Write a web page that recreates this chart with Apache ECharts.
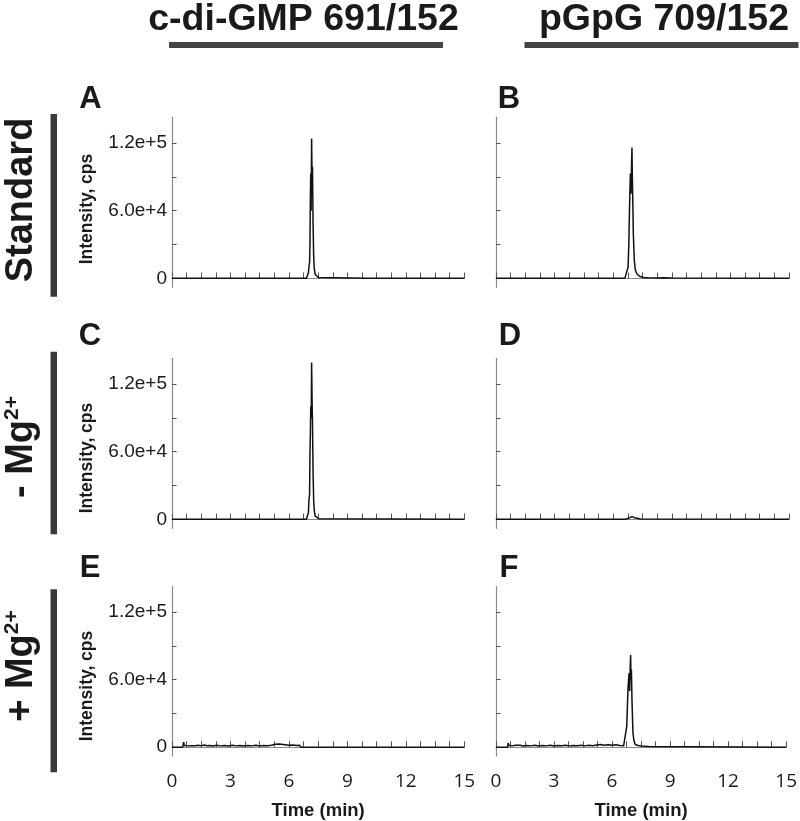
<!DOCTYPE html>
<html>
<head>
<meta charset="utf-8">
<script src="https://cdn.jsdelivr.net/npm/echarts@6/dist/echarts.min.js"></script>
<style>
html,body{margin:0;padding:0;background:#fff;}
#main{width:800px;height:821px;}
</style>
</head>
<body>
<div id="main"></div>
<script>
// ---------- data ----------
var colTitles = ['c-di-GMP 691/152', 'pGpG 709/152'];
var panelLetters = ['A', 'B', 'C', 'D', 'E', 'F'];
var xLabelValues = [0, 3, 6, 9, 12, 15];
var xTickValues = [0,0.75,1.5,2.25,3,3.75,4.5,5.25,6,6.75,7.5,8.25,9,9.75,10.5,11.25,12,12.75,13.5,14.25,15];
var yLabelValues = [0, 60000, 120000];
var yTickLabels = ['0', '6.0e+4', '1.2e+5'];
var yTickValues = [0, 30000, 60000, 90000, 120000];
var yAxisTitle = 'Intensity, cps';
var xAxisTitle = 'Time (min)';

// Panel A: c-di-GMP, standard
var seriesA = [[0,300],[3,300],[6.9,300],[6.96,800],[7.0,5000],[7.03,11000],[7.06,14000],[7.08,31000],[7.1,70000],[7.12,93000],[7.14,60000],[7.165,124000],[7.19,85000],[7.21,99000],[7.24,48000],[7.27,20000],[7.3,9000],[7.35,3500],[7.42,1800],[7.51,900],[7.6,400],[10,300],[15,300]];
// Panel B: pGpG, standard
var seriesB = [[0,300],[6.6,300],[6.7,1000],[6.76,10000],[6.8,30000],[6.83,57000],[6.86,80000],[6.88,93000],[6.91,75000],[6.94,100000],[6.96,116000],[6.98,90000],[7.0,72000],[7.03,40000],[7.08,16000],[7.13,8000],[7.2,4400],[7.35,2000],[7.54,900],[7.8,700],[8.2,500],[8.6,700],[9.0,400],[15,300]];
// Panel C: c-di-GMP, - Mg2+
var seriesC = [[0,300],[6.9,300],[6.96,1000],[7.0,6000],[7.03,18000],[7.06,22000],[7.08,58000],[7.1,75000],[7.12,100000],[7.145,90000],[7.165,139000],[7.19,103000],[7.21,85000],[7.24,41000],[7.27,17000],[7.3,8000],[7.35,3000],[7.45,1500],[7.55,600],[15,300]];
// Panel D: pGpG, - Mg2+
var seriesD = [[0,300],[6.6,300],[6.75,800],[6.85,1800],[6.95,2500],[7.0,2200],[7.1,1500],[7.2,700],[7.4,400],[15,300]];
// Panel E: c-di-GMP, + Mg2+
var seriesE = [[0,0],[0.55,0],[0.6,4500],[0.63,1500],[0.7,2200],[0.8,1200],[0.9,1800],[1.0,1400],[1.1,2000],[1.2,1300],[1.35,1700],[1.5,1200],[1.65,1900],[1.8,1300],[1.95,1600],[2.1,1100],[2.3,1800],[2.5,1200],[2.7,1600],[2.9,1100],[3.1,1700],[3.3,1200],[3.5,1500],[3.7,1100],[3.9,1600],[4.1,1200],[4.3,1700],[4.5,1100],[4.7,1500],[4.9,1300],[5.1,1800],[5.3,2600],[5.4,2200],[5.5,2800],[5.6,2000],[5.8,2300],[6.0,1700],[6.2,2000],[6.4,1500],[6.55,1800],[6.6,0],[15,0]];
// Panel F: pGpG, + Mg2+
var seriesF = [[0,0],[0.6,0],[0.63,3900],[0.67,1500],[0.75,2200],[0.85,1200],[1.0,1800],[1.1,1300],[1.25,1700],[1.4,1100],[1.6,1600],[1.8,1200],[2.0,1700],[2.2,1100],[2.4,1500],[2.6,1200],[2.8,1800],[3.0,1100],[3.2,1500],[3.4,1300],[3.6,1700],[3.8,1200],[4.0,1600],[4.2,1300],[4.4,1800],[4.6,1200],[4.8,1700],[5.0,1400],[5.2,2000],[5.4,2400],[5.6,1800],[5.8,2300],[6.0,1700],[6.2,2100],[6.4,1500],[6.6,1400],[6.7,3000],[6.76,18600],[6.8,40000],[6.83,54000],[6.88,66000],[6.91,50000],[6.94,72000],[6.96,82000],[6.98,60000],[7.0,69000],[7.03,42000],[7.08,12700],[7.13,6000],[7.2,2400],[7.35,1500],[7.5,1000],[7.7,800],[7.9,600],[8.0,0],[15,0]];

var allSeries = [seriesA, seriesB, seriesC, seriesD, seriesE, seriesF];

// ---------- layout ----------
var colLeft = [172, 496];
var colWidth = [292.3, 293];
var rowTop = [117.3, 358.3, 586.7];
var rowHeight = 170;
var yMin = -7800, yMax = 142700;

var FONT = '"Liberation Sans", Arial, Helvetica, sans-serif';
var TXT = '#1a1a1a';

var grids = [], xAxes = [], yAxes = [], series = [];
for (var i = 0; i < 6; i++) {
  var r = Math.floor(i / 2), c = i % 2;
  grids.push({ left: colLeft[c], width: colWidth[c], top: rowTop[r], height: rowHeight, containLabel: false });
  xAxes.push({
    type: 'value', gridIndex: i, min: 0, max: 15,
    splitLine: { show: false },
    axisLine: { show: true, lineStyle: { color: '#8a8a8a', width: 1.2 } },
    axisTick: { show: true, inside: true, length: 6, customValues: xTickValues, lineStyle: { color: '#555', width: 1 } },
    axisLabel: { show: r === 2, customValues: xLabelValues, margin: 16, fontSize: 19, color: TXT, fontFamily: '"Open Sans", "Noto Sans", sans-serif' },
    name: r === 2 ? xAxisTitle : '', nameLocation: 'middle', nameGap: 45,
    nameTextStyle: { fontSize: 18.5, fontWeight: 'bold', color: TXT, fontFamily: FONT }
  });
  yAxes.push({
    type: 'value', gridIndex: i, min: yMin, max: yMax,
    splitLine: { show: false },
    axisLine: { show: true, lineStyle: { color: '#8a8a8a', width: 1.2 } },
    axisTick: { show: true, inside: true, length: 4.5, customValues: yTickValues, lineStyle: { color: '#555', width: 1 } },
    axisLabel: {
      show: c === 0, customValues: yLabelValues, margin: 5, fontSize: 19, color: TXT, fontFamily: FONT,
      formatter: function (v) { var k = yLabelValues.indexOf(v); return k >= 0 ? yTickLabels[k] : ''; }
    }
  });
  series.push({
    type: 'line', xAxisIndex: i, yAxisIndex: i, data: allSeries[i],
    showSymbol: false, symbol: 'none', sampling: null, silent: true,
    lineStyle: { color: '#111', width: 1.5 }
  });
}

// ---------- decorations ----------
var graphics = [];
var colCenters = [303.5, 664];
colTitles.forEach(function (t, k) {
  graphics.push({ type: 'text', x: colCenters[k], y: 20, style: { text: t, font: 'bold 37.5px ' + FONT, fill: TXT, align: 'center', verticalAlign: 'middle' } });
});
graphics.push({ type: 'rect', shape: { x: 169, y: 42, width: 274, height: 6 }, style: { fill: '#444' } });
graphics.push({ type: 'rect', shape: { x: 524.5, y: 42, width: 274, height: 6 }, style: { fill: '#444' } });

// row bars
var rowBars = [[114, 296.7], [351.7, 534.3], [589.3, 772.3]];
rowBars.forEach(function (b) {
  graphics.push({ type: 'rect', shape: { x: 50.5, y: b[0], width: 6.5, height: b[1] - b[0] }, style: { fill: '#3a3a3a' } });
});

// row labels
var rowLabelText = ['{m|Standard}', '{m|- Mg}{s|2+}', '{m|+ Mg}{s|2+}'];
var rowLabelY = [200, 447, 666];
rowLabelText.forEach(function (t, k) {
  graphics.push({
    type: 'text', x: 22, y: rowLabelY[k], rotation: Math.PI / 2,
    style: {
      text: t, align: 'center', verticalAlign: 'middle', fill: TXT,
      rich: {
        m: { fontSize: 38, fontWeight: 'bold', fontFamily: FONT, fill: TXT, lineHeight: 40 },
        s: { fontSize: 21, fontWeight: 'bold', fontFamily: FONT, fill: TXT, verticalAlign: 'top', lineHeight: 40 }
      }
    }
  });
});

// y-axis titles (left column)
var yTitleY = [209, 458, 686];
yTitleY.forEach(function (yy) {
  graphics.push({ type: 'text', x: 87.5, y: yy, rotation: Math.PI / 2, style: { text: yAxisTitle, font: 'bold 17.5px ' + FONT, fill: TXT, align: 'center', verticalAlign: 'middle' } });
});

// panel letters
var letterPos = [[90.5, 99], [509, 99], [90, 336], [510, 336], [90, 568], [509, 568]];
panelLetters.forEach(function (L, k) {
  graphics.push({ type: 'text', x: letterPos[k][0], y: letterPos[k][1], style: { text: L, font: 'bold 31px ' + FONT, fill: TXT, align: 'center', verticalAlign: 'middle' } });
});

var chart = echarts.init(document.getElementById('main'), null, { renderer: 'canvas' });
chart.setOption({
  animation: false,
  backgroundColor: '#fff',
  grid: grids, xAxis: xAxes, yAxis: yAxes, series: series,
  graphic: graphics
});
</script>
</body>
</html>
